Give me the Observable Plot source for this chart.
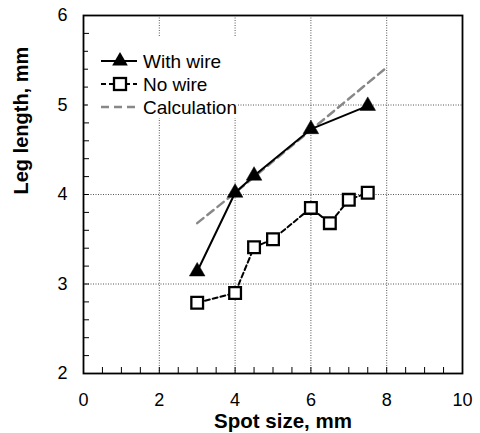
<!DOCTYPE html>
<html><head><meta charset="utf-8">
<script src="https://cdn.jsdelivr.net/npm/d3@7"></script>
<script src="https://cdn.jsdelivr.net/npm/@observablehq/plot@0.6"></script>
<style>
body{margin:0;background:#fff;font-family:"Liberation Sans",Arial,sans-serif;}
#wrap{position:relative;width:480px;height:433px;}
#legend{position:absolute;left:88px;top:36px;width:150px;height:82px;background:#fff;}
</style></head>
<body><div id="wrap"><div id="legend"></div></div>
<script>
const seriesNames = ["With wire", "No wire", "Calculation"];
const withWireX = [3, 4, 4.5, 6, 7.5];
const withWireY = [3.14, 4.02, 4.21, 4.73, 4.99];
const noWireX = [3, 4, 4.5, 5, 6, 6.5, 7, 7.5];
const noWireY = [2.79, 2.90, 3.41, 3.50, 3.85, 3.68, 3.94, 4.02];
const calcX = [3, 4, 6, 8];
const calcY = [3.68, 4.02, 4.72, 5.42];
const xTicks = [0, 2, 4, 6, 8, 10];
const yTicks = [2, 3, 4, 5, 6];
const xTitle = "Spot size, mm";
const yTitle = "Leg length, mm";

const withWire = withWireX.map((x, i) => ({x, y: withWireY[i]}));
const noWire = noWireX.map((x, i) => ({x, y: noWireY[i]}));
const calc = calcX.map((x, i) => ({x, y: calcY[i]}));
const xMinor = d3.range(0.5, 10, 0.5).filter(v => v % 2 !== 0);
const yMinor = d3.range(2.2, 6, 0.2).map(v => +v.toFixed(1)).filter(v => Math.abs(v - Math.round(v)) > 1e-6);
const xGrid = xTicks.slice(1, -1);
const yGrid = yTicks.slice(1, -1);

const W = 480, H = 433, mL = 83, mR = 18, mT = 15, mB = 60;
const pw = W - mL - mR, ph = H - mT - mB;
const font = "Liberation Sans, Arial, sans-serif";

const chart = Plot.plot({
  width: W, height: H,
  marginLeft: mL, marginRight: mR, marginTop: mT, marginBottom: mB,
  style: {fontFamily: font, fontSize: "18px", color: "#000", background: "#fff"},
  x: {domain: [0, 10]},
  y: {domain: [2, 6]},
  marks: [
    Plot.ruleX(xGrid, {stroke: "#555", strokeWidth: 1, strokeDasharray: "1,1.5"}),
    Plot.ruleY(yGrid, {stroke: "#555", strokeWidth: 1, strokeDasharray: "1,1.5"}),
    Plot.tickX(xMinor.concat(xGrid), {x: d => d, stroke: "#000", strokeWidth: 1, insetTop: ph - 6}),
    Plot.tickY(yMinor.concat(yGrid), {y: d => d, stroke: "#000", strokeWidth: 1, insetRight: pw - 6}),
    Plot.frame({stroke: "#000", strokeWidth: 1.8}),
    Plot.axisX(xTicks, {tickSize: 0, tickPadding: 20, fontSize: 18, label: null, tickFormat: d3.format("d")}),
    Plot.axisY(yTicks, {tickSize: 0, tickPadding: 16, fontSize: 18, label: null, tickFormat: d3.format("d")}),
    Plot.text([xTitle], {frameAnchor: "bottom", lineAnchor: "middle", dy: 48, dx: 10, fontWeight: "bold", fontSize: 20.5}),
    Plot.text([yTitle], {frameAnchor: "left", lineAnchor: "middle", dx: -62, rotate: -90, fontWeight: "bold", fontSize: 20}),
    Plot.line(calc, {x: "x", y: "y", stroke: "#888", strokeWidth: 2.5, strokeDasharray: "8,5"}),
    Plot.line(noWire, {x: "x", y: "y", stroke: "#000", strokeWidth: 2, strokeDasharray: "5,3"}),
    Plot.line(withWire, {x: "x", y: "y", stroke: "#000", strokeWidth: 2}),
    Plot.dot(noWire, {x: "x", y: "y", symbol: "square", r: 6.6, fill: "#fff", stroke: "#000", strokeWidth: 2.3}),
    Plot.dot(withWire, {x: "x", y: "y", symbol: "triangle", r: 5.8, fill: "#000", stroke: "#000", strokeWidth: 0.5})
  ]
});
document.getElementById("wrap").prepend(chart);

// Legend
const lg = d3.select("#legend").append("svg").attr("width", 150).attr("height", 82)
  .style("font-family", font).style("font-size", "19px");
const styles = [
  {stroke: "#000", dash: null, width: 2, sym: "tri"},
  {stroke: "#000", dash: "5,3", width: 2, sym: "sq"},
  {stroke: "#888", dash: "8,5", width: 2.5, sym: null}
];
seriesNames.forEach((name, i) => {
  const y = 25 + i * 23, s = styles[i];
  const g = lg.append("g");
  g.append("line").attr("x1", 13).attr("x2", 49).attr("y1", y).attr("y2", y)
    .attr("stroke", s.stroke).attr("stroke-width", s.width).attr("stroke-dasharray", s.dash);
  if (s.sym === "tri") g.append("path").attr("d", d3.symbol(d3.symbolTriangle, 106)()).attr("transform", `translate(32,${y})`).attr("fill", "#000");
  if (s.sym === "sq") g.append("rect").attr("x", 26).attr("y", y - 6).attr("width", 12).attr("height", 12).attr("fill", "#fff").attr("stroke", "#000").attr("stroke-width", 2.3);
  g.append("text").attr("x", 55).attr("y", y).attr("dy", "0.35em").text(name);
});
</script></body></html>
